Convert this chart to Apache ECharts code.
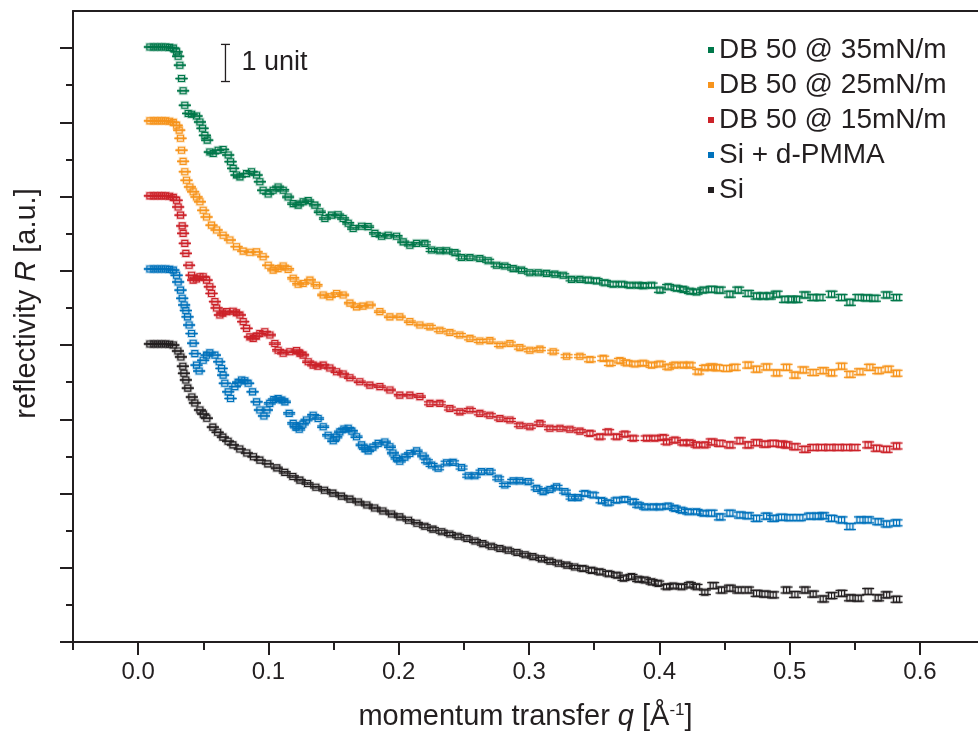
<!DOCTYPE html>
<html><head><meta charset="utf-8">
<script src="https://cdn.jsdelivr.net/npm/echarts@6/dist/echarts.min.js"></script>
<style>html,body{margin:0;padding:0;background:#fff}#c{width:978px;height:740px}</style>
</head><body><div id="c"></div><script>
// ---- data: [q (1/Å), log-reflectivity relative to plateau (units)] ----
const seriesNames = ['DB 50 @ 35mN/m','DB 50 @ 25mN/m','DB 50 @ 15mN/m','Si + d-PMMA','Si'];
const seriesOffsets = [16, 14, 12, 10, 8];   // vertical shift of each curve, units
const seriesColors = ['#00784A','#F7941D','#CC2229','#0072BC','#231F20'];

const db35 = [[0.009,0.03],[0.012,0.03],[0.015,0.03],[0.018,0.03],[0.021,0.03],[0.024,0.02],[0.027,0.0],[0.0295,-0.10],[0.0307,-0.22],[0.0320,-0.46],[0.0333,-0.82],[0.0345,-1.15],[0.0358,-1.54],[0.0384,-1.76],[0.0410,-1.78],[0.0448,-1.83],[0.0474,-1.99],[0.0494,-2.16],[0.0512,-2.35],[0.0530,-2.48],[0.0550,-2.80],[0.0576,-2.84],[0.0614,-2.75],[0.0652,-2.73],[0.0691,-2.88],[0.0709,-3.06],[0.0729,-3.24],[0.0755,-3.42],[0.0781,-3.47],[0.0832,-3.38],[0.0870,-3.33],[0.0909,-3.42],[0.0934,-3.60],[0.0959,-3.83],[0.0998,-3.93],[0.1036,-3.83],[0.1074,-3.74],[0.1113,-3.83],[0.1151,-4.01],[0.1190,-4.19],[0.1228,-4.23],[0.1266,-4.14],[0.1305,-4.11],[0.1356,-4.23],[0.1394,-4.41],[0.1433,-4.59],[0.1484,-4.50],[0.1535,-4.49],[0.1573,-4.59],[0.1612,-4.72],[0.1650,-4.86],[0.1715,-4.80],[0.1765,-4.81],[0.1817,-4.99],[0.1868,-5.07],[0.1919,-5.04],[0.1983,-5.07],[0.2034,-5.22],[0.2085,-5.31],[0.2137,-5.26],[0.2200,-5.26],[0.2252,-5.44],[0.2315,-5.46],[0.2367,-5.46],[0.2431,-5.51],[0.2482,-5.64],[0.2546,-5.64],[0.2622,-5.67],[0.2686,-5.73],[0.2751,-5.85],[0.2814,-5.87],[0.2878,-5.94],[0.2942,-5.98],[0.3006,-6.05],[0.3070,-6.05],[0.3134,-6.07],[0.3198,-6.09],[0.3262,-6.12],[0.3326,-6.23],[0.3390,-6.23],[0.3454,-6.25],[0.3518,-6.27],[0.3582,-6.32],[0.3645,-6.36],[0.3710,-6.36],[0.3774,-6.39],[0.3837,-6.39],[0.3876,-6.40],[0.3940,-6.39],[0.4004,-6.52],[0.4067,-6.43],[0.4132,-6.47],[0.4183,-6.50],[0.4234,-6.55],[0.4285,-6.57],[0.4336,-6.52],[0.4401,-6.50],[0.4464,-6.52],[0.4541,-6.63],[0.4605,-6.52],[0.4681,-6.61],[0.4746,-6.68],[0.4797,-6.68],[0.4848,-6.68],[0.4900,-6.63],[0.4963,-6.77],[0.5015,-6.77],[0.5053,-6.77],[0.5117,-6.65],[0.5180,-6.72],[0.5232,-6.72],[0.5321,-6.63],[0.5398,-6.72],[0.5462,-6.85],[0.5526,-6.72],[0.5590,-6.73],[0.5654,-6.74],[0.5744,-6.65],[0.5820,-6.72]];

const db25 = [[0.009,0.04],[0.012,0.04],[0.015,0.04],[0.018,0.04],[0.021,0.04],[0.024,0.03],[0.027,0.0],[0.0295,-0.08],[0.0315,-0.21],[0.0325,-0.43],[0.0333,-0.75],[0.0345,-1.05],[0.0358,-1.33],[0.0371,-1.56],[0.0397,-1.74],[0.0422,-1.87],[0.0448,-2.01],[0.0474,-2.14],[0.0499,-2.37],[0.0525,-2.55],[0.0563,-2.77],[0.0602,-2.90],[0.0652,-3.04],[0.0704,-3.17],[0.0755,-3.35],[0.0806,-3.47],[0.0857,-3.50],[0.0909,-3.49],[0.0959,-3.62],[0.0998,-3.85],[0.1036,-3.98],[0.1074,-3.94],[0.1113,-3.87],[0.1151,-3.96],[0.1190,-4.20],[0.1228,-4.36],[0.1266,-4.34],[0.1318,-4.25],[0.1369,-4.39],[0.1420,-4.65],[0.1471,-4.70],[0.1523,-4.61],[0.1573,-4.65],[0.1625,-4.87],[0.1676,-4.97],[0.1725,-4.95],[0.1778,-4.92],[0.1855,-5.10],[0.1932,-5.24],[0.2008,-5.24],[0.2085,-5.37],[0.2162,-5.46],[0.2239,-5.51],[0.2315,-5.60],[0.2392,-5.66],[0.2469,-5.73],[0.2546,-5.82],[0.2622,-5.89],[0.2699,-5.88],[0.2776,-6.00],[0.2853,-5.96],[0.2929,-6.07],[0.3006,-6.14],[0.3083,-6.11],[0.3185,-6.18],[0.3288,-6.30],[0.3390,-6.30],[0.3467,-6.39],[0.3569,-6.36],[0.3620,-6.49],[0.3697,-6.42],[0.3748,-6.48],[0.3812,-6.51],[0.3876,-6.49],[0.3940,-6.54],[0.4004,-6.51],[0.4067,-6.59],[0.4119,-6.54],[0.4183,-6.54],[0.4234,-6.54],[0.4298,-6.72],[0.4349,-6.61],[0.4401,-6.59],[0.4439,-6.61],[0.4516,-6.63],[0.4579,-6.60],[0.4681,-6.54],[0.4746,-6.65],[0.4823,-6.59],[0.4900,-6.75],[0.4976,-6.60],[0.5040,-6.81],[0.5104,-6.67],[0.5180,-6.74],[0.5257,-6.69],[0.5321,-6.75],[0.5398,-6.57],[0.5462,-6.79],[0.5539,-6.72],[0.5615,-6.60],[0.5679,-6.69],[0.5756,-6.65],[0.5820,-6.76]];

const db15 = [[0.009,0.02],[0.012,0.02],[0.015,0.02],[0.018,0.02],[0.021,0.02],[0.024,0.01],[0.027,-0.02],[0.0295,-0.10],[0.0307,-0.28],[0.0325,-0.50],[0.0338,-0.79],[0.0345,-0.99],[0.0358,-1.26],[0.0366,-1.53],[0.0391,-1.85],[0.0410,-2.12],[0.0422,-2.25],[0.0447,-2.22],[0.0474,-2.16],[0.0499,-2.16],[0.0525,-2.25],[0.0550,-2.43],[0.0563,-2.61],[0.0589,-2.83],[0.0602,-3.00],[0.0627,-3.19],[0.0650,-3.14],[0.0678,-3.10],[0.0729,-3.09],[0.0754,-3.13],[0.0781,-3.19],[0.0806,-3.37],[0.0832,-3.55],[0.0857,-3.78],[0.0883,-3.82],[0.0907,-3.76],[0.0934,-3.69],[0.0972,-3.64],[0.1011,-3.73],[0.1049,-3.96],[0.1074,-4.14],[0.1113,-4.22],[0.1164,-4.18],[0.1216,-4.15],[0.1241,-4.22],[0.1266,-4.27],[0.1305,-4.45],[0.1343,-4.54],[0.1379,-4.57],[0.1420,-4.54],[0.1471,-4.62],[0.1523,-4.72],[0.1573,-4.78],[0.1625,-4.88],[0.1701,-4.99],[0.1778,-5.08],[0.1855,-5.12],[0.1932,-5.21],[0.2008,-5.35],[0.2085,-5.35],[0.2162,-5.39],[0.2239,-5.57],[0.2315,-5.57],[0.2392,-5.71],[0.2469,-5.80],[0.2546,-5.75],[0.2622,-5.84],[0.2699,-5.89],[0.2776,-5.98],[0.2853,-6.02],[0.2929,-6.16],[0.3006,-6.20],[0.3083,-6.11],[0.3160,-6.24],[0.3237,-6.24],[0.3313,-6.27],[0.3390,-6.32],[0.3467,-6.38],[0.3543,-6.47],[0.3607,-6.34],[0.3672,-6.47],[0.3735,-6.40],[0.3799,-6.51],[0.3902,-6.51],[0.3965,-6.51],[0.4029,-6.49],[0.4055,-6.61],[0.4119,-6.56],[0.4183,-6.63],[0.4234,-6.63],[0.4285,-6.69],[0.4349,-6.69],[0.4401,-6.61],[0.4464,-6.65],[0.4541,-6.69],[0.4618,-6.58],[0.4681,-6.69],[0.4746,-6.63],[0.4810,-6.67],[0.4873,-6.65],[0.4938,-6.67],[0.4976,-6.69],[0.5040,-6.74],[0.5117,-6.81],[0.5180,-6.76],[0.5245,-6.76],[0.5308,-6.76],[0.5372,-6.76],[0.5437,-6.76],[0.5500,-6.76],[0.5602,-6.69],[0.5667,-6.78],[0.5744,-6.81],[0.5820,-6.72]];

const siPmma = [[0.009,0.05],[0.012,0.05],[0.015,0.05],[0.018,0.05],[0.021,0.05],[0.024,0.04],[0.027,0.02],[0.0295,-0.12],[0.0307,-0.30],[0.0325,-0.52],[0.0338,-0.74],[0.0353,-0.92],[0.0366,-1.07],[0.0379,-1.24],[0.0391,-1.46],[0.0410,-1.69],[0.0422,-1.95],[0.0435,-2.23],[0.0448,-2.54],[0.0468,-2.70],[0.0499,-2.41],[0.0525,-2.27],[0.0550,-2.21],[0.0589,-2.27],[0.0622,-2.45],[0.0640,-2.63],[0.0652,-2.81],[0.0665,-3.03],[0.0691,-3.26],[0.0709,-3.44],[0.0742,-3.12],[0.0767,-3.00],[0.0794,-2.94],[0.0819,-2.96],[0.0844,-3.03],[0.0878,-3.26],[0.0909,-3.53],[0.0934,-3.75],[0.0965,-3.91],[0.0988,-3.75],[0.1010,-3.57],[0.1041,-3.47],[0.1074,-3.44],[0.1103,-3.48],[0.1126,-3.53],[0.1159,-3.84],[0.1190,-4.11],[0.1210,-4.21],[0.1236,-4.27],[0.1264,-4.13],[0.1292,-4.02],[0.1343,-3.89],[0.1381,-3.98],[0.1420,-4.20],[0.1458,-4.43],[0.1497,-4.58],[0.1521,-4.48],[0.1548,-4.34],[0.1579,-4.26],[0.1612,-4.24],[0.1640,-4.32],[0.1676,-4.47],[0.1715,-4.69],[0.1740,-4.79],[0.1765,-4.85],[0.1801,-4.75],[0.1842,-4.65],[0.1893,-4.61],[0.1932,-4.74],[0.1955,-4.91],[0.1983,-5.05],[0.2008,-5.13],[0.2047,-5.02],[0.2085,-4.92],[0.2137,-4.85],[0.2187,-4.99],[0.2216,-5.13],[0.2252,-5.23],[0.2302,-5.32],[0.2367,-5.17],[0.2417,-5.16],[0.2482,-5.30],[0.2533,-5.52],[0.2584,-5.52],[0.2635,-5.41],[0.2699,-5.41],[0.2763,-5.59],[0.2814,-5.77],[0.2878,-5.66],[0.2929,-5.66],[0.2993,-5.68],[0.3058,-5.86],[0.3108,-5.95],[0.3160,-5.89],[0.3211,-5.82],[0.3275,-5.95],[0.3326,-6.11],[0.3377,-6.11],[0.3428,-6.00],[0.3492,-6.04],[0.3556,-6.19],[0.3607,-6.25],[0.3672,-6.18],[0.3735,-6.16],[0.3799,-6.22],[0.3837,-6.31],[0.3889,-6.36],[0.3952,-6.36],[0.4004,-6.36],[0.4067,-6.34],[0.4119,-6.40],[0.4170,-6.45],[0.4221,-6.49],[0.4285,-6.49],[0.4336,-6.53],[0.4401,-6.53],[0.4464,-6.63],[0.4541,-6.53],[0.4618,-6.58],[0.4681,-6.60],[0.4746,-6.67],[0.4823,-6.61],[0.4873,-6.67],[0.4938,-6.64],[0.5002,-6.65],[0.5078,-6.65],[0.5155,-6.61],[0.5219,-6.61],[0.5257,-6.60],[0.5321,-6.67],[0.5398,-6.71],[0.5462,-6.89],[0.5539,-6.71],[0.5602,-6.71],[0.5679,-6.76],[0.5744,-6.82],[0.5820,-6.79]];

const si = [[0.009,0.03],[0.012,0.03],[0.015,0.03],[0.018,0.03],[0.021,0.03],[0.024,0.02],[0.027,0.0],[0.0305,-0.16],[0.0328,-0.32],[0.0343,-0.57],[0.0351,-0.76],[0.0366,-0.94],[0.0381,-1.16],[0.0412,-1.40],[0.0435,-1.56],[0.0474,-1.75],[0.0500,-1.86],[0.0527,-1.97],[0.0573,-2.21],[0.0610,-2.35],[0.0650,-2.48],[0.0690,-2.59],[0.0727,-2.69],[0.0780,-2.80],[0.0834,-2.91],[0.0885,-3.01],[0.0934,-3.10],[0.0995,-3.20],[0.1064,-3.31],[0.1125,-3.43],[0.1187,-3.54],[0.1241,-3.64],[0.1300,-3.73],[0.1364,-3.83],[0.1430,-3.91],[0.1494,-3.99],[0.1560,-4.07],[0.1625,-4.15],[0.1690,-4.23],[0.1755,-4.31],[0.1815,-4.39],[0.1878,-4.47],[0.1945,-4.55],[0.2008,-4.63],[0.2075,-4.72],[0.2139,-4.80],[0.2200,-4.88],[0.2262,-4.96],[0.2330,-5.03],[0.2392,-5.09],[0.2455,-5.15],[0.2523,-5.21],[0.2585,-5.28],[0.2645,-5.35],[0.2710,-5.42],[0.2776,-5.48],[0.2840,-5.53],[0.2907,-5.59],[0.2970,-5.65],[0.3029,-5.70],[0.3095,-5.76],[0.3160,-5.82],[0.3225,-5.88],[0.3290,-5.93],[0.3350,-5.98],[0.3413,-6.02],[0.3480,-6.07],[0.3543,-6.11],[0.3610,-6.16],[0.3674,-6.20],[0.3724,-6.28],[0.3786,-6.24],[0.3837,-6.31],[0.3889,-6.33],[0.3940,-6.38],[0.3991,-6.42],[0.4055,-6.51],[0.4106,-6.49],[0.4170,-6.51],[0.4234,-6.46],[0.4285,-6.51],[0.4349,-6.66],[0.4413,-6.48],[0.4477,-6.60],[0.4541,-6.55],[0.4605,-6.60],[0.4681,-6.60],[0.4746,-6.69],[0.4810,-6.71],[0.4873,-6.73],[0.4976,-6.60],[0.5040,-6.72],[0.5117,-6.60],[0.5180,-6.71],[0.5257,-6.84],[0.5321,-6.75],[0.5398,-6.69],[0.5462,-6.81],[0.5526,-6.82],[0.5602,-6.64],[0.5679,-6.81],[0.5744,-6.73],[0.5820,-6.85]];

const seriesValues = [db35, db25, db15, siPmma, si];

// error-bar half height (units), by q range start
const errorSteps = [[0.0,0.0],[0.10,0.02],[0.22,0.04],[0.34,0.06],[0.44,0.08]];

// axis ticks
const xMajorTicks = [0,0.1,0.2,0.3,0.4,0.5,0.6];
const xMinorTicks = [-0.05,0.05,0.15,0.25,0.35,0.45,0.55];
const yMajorTicks = [0,2,4,6,8,10,12,14,16];
const yMinorTicks = [1,3,5,7,9,11,13,15];

// scale bar ("1 unit")
const scaleBar = [[0.067, 15.1, 16.1]];

const FONT = '"Liberation Sans", Arial, Helvetica, sans-serif';
const INK = '#231F20';
const X_MIN = -0.05, X_MAX = 0.6445, Y_MIN = 0, Y_MAX = 17;

function errAt(q){ let e = 0; for (const [q0,v] of errorSteps) if (q >= q0) e = v; return e; }

function renderPoint(params, api){
  const q = api.value(0), u = api.value(1), e = api.value(2);
  const c = api.coord([q,u]);
  const yt = api.coord([q,u+e])[1], yb = api.coord([q,u-e])[1];
  const col = api.visual('color');
  const cap = 6, s = 3;
  const halo = {stroke: col, lineWidth: 3, opacity: 0.22, fill: null};
  const st = {stroke: col, lineWidth: 1.1, fill: null};
  return {type:'group', children:[
    {type:'line', shape:{x1:c[0]-cap,y1:yt,x2:c[0]+cap,y2:yt}, style:halo},
    {type:'line', shape:{x1:c[0]-cap,y1:yb,x2:c[0]+cap,y2:yb}, style:halo},
    {type:'rect', shape:{x:c[0]-s,y:c[1]-s,width:2*s,height:2*s}, style:halo},
    {type:'line', shape:{x1:c[0],y1:yt,x2:c[0],y2:yb}, style:st},
    {type:'line', shape:{x1:c[0]-cap,y1:yt,x2:c[0]+cap,y2:yt}, style:st},
    {type:'line', shape:{x1:c[0]-cap,y1:yb,x2:c[0]+cap,y2:yb}, style:st},
    {type:'rect', shape:{x:c[0]-s,y:c[1]-s,width:2*s,height:2*s}, style:{stroke:col,lineWidth:1.1,fill:'rgba(255,255,255,0)'}}
  ]};
}

function renderScale(params, api){
  const q = api.value(0);
  const b = api.coord([q, api.value(1)]), t = api.coord([q, api.value(2)]);
  const st = {stroke: INK, lineWidth: 1.3};
  return {type:'group', children:[
    {type:'line', shape:{x1:b[0],y1:b[1],x2:t[0],y2:t[1]}, style:st},
    {type:'line', shape:{x1:b[0]-4.5,y1:b[1],x2:b[0]+4.5,y2:b[1]}, style:st},
    {type:'line', shape:{x1:t[0]-4.5,y1:t[1],x2:t[0]+4.5,y2:t[1]}, style:st},
    {type:'text', style:{text:'1 unit', x:b[0]+16, y:(b[1]+t[1])/2, verticalAlign:'middle', fontSize:27, fontFamily:FONT, fill:INK}}
  ]};
}

const axisLineStyle = {color: INK, width: 2};
const series = seriesNames.map((name, i) => ({
  name, type:'custom', xAxisIndex:0, yAxisIndex:0,
  itemStyle:{color: seriesColors[i]},
  renderItem: renderPoint,
  data: seriesValues[i].map(([q,u]) => [q, u + seriesOffsets[i], errAt(q)]),
  z: 10 - i
}));
series.push({name:'scale', type:'custom', xAxisIndex:0, yAxisIndex:0, renderItem: renderScale, data: scaleBar, silent:true});

const chart = echarts.init(document.getElementById('c'), null, {renderer:'canvas'});
chart.setOption({
  animation:false,
  backgroundColor:'#fff',
  grid:{left:73, right:0, top:11, bottom:98, containLabel:false},
  legend:{
    data: seriesNames, orient:'vertical', left:703, top:31,
    itemWidth:6, itemHeight:6, itemGap:7, icon:'rect',
    textStyle:{fontSize:28, color:INK, fontFamily:FONT}
  },
  xAxis:[
    {type:'value', min:X_MIN, max:X_MAX, position:'bottom',
     axisLine:{show:true, onZero:false, lineStyle:axisLineStyle},
     axisTick:{show:true, customValues:xMinorTicks, length:8, lineStyle:axisLineStyle},
     axisLabel:{show:false}, splitLine:{show:false}},
    {type:'value', min:X_MIN, max:X_MAX, position:'bottom',
     axisLine:{show:false, onZero:false},
     axisTick:{show:true, customValues:xMajorTicks, length:13, lineStyle:axisLineStyle},
     axisLabel:{show:true, customValues:xMajorTicks, formatter:v=>v.toFixed(1), fontSize:24, color:INK, fontFamily:FONT, margin:18},
     splitLine:{show:false},
     name:'{t|momentum transfer }{i|q}{t| [Å}{s|-1}{t|]}', nameLocation:'middle', nameGap:60,
     nameTextStyle:{color:INK, rich:{
       t:{fontSize:29, fontFamily:FONT, color:INK},
       i:{fontSize:29, fontFamily:FONT, color:INK, fontStyle:'italic'},
       s:{fontSize:17, fontFamily:FONT, color:INK, verticalAlign:'top'}}}},
    {type:'value', min:X_MIN, max:X_MAX, position:'top',
     axisLine:{show:true, onZero:false, lineStyle:axisLineStyle},
     axisTick:{show:false}, axisLabel:{show:false}, splitLine:{show:false}}
  ],
  yAxis:[
    {type:'value', min:Y_MIN, max:Y_MAX, position:'left',
     axisLine:{show:true, onZero:false, lineStyle:axisLineStyle},
     axisTick:{show:true, customValues:yMajorTicks, length:13, lineStyle:axisLineStyle},
     axisLabel:{show:false}, splitLine:{show:false},
     name:'{t|reflectivity }{i|R}{t| [a.u.]}', nameLocation:'middle', nameGap:32,
     nameTextStyle:{color:INK, padding:[0,0,0,46], rich:{
       t:{fontSize:29, fontFamily:FONT, color:INK},
       i:{fontSize:29, fontFamily:FONT, color:INK, fontStyle:'italic'}}}},
    {type:'value', min:Y_MIN, max:Y_MAX, position:'left',
     axisLine:{show:false, onZero:false},
     axisTick:{show:true, customValues:yMinorTicks, length:7, lineStyle:axisLineStyle},
     axisLabel:{show:false}, splitLine:{show:false}}
  ],
  series
});
</script></body></html>
